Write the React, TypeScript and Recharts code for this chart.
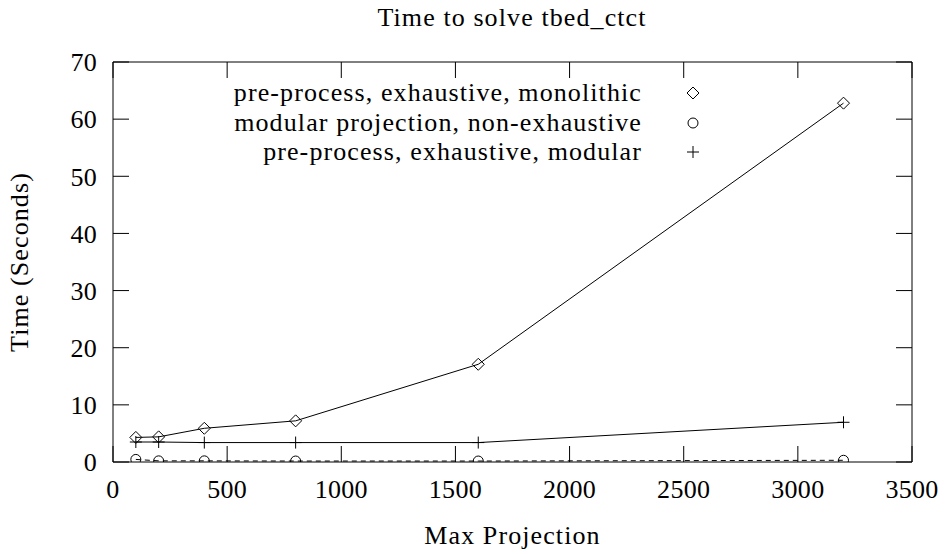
import { Line, LineChart, XAxis, YAxis, Label } from "recharts";

const maxProjection = [100, 200, 400, 800, 1600, 3200];
const monolithic = [4.3, 4.4, 5.9, 7.2, 17.1, 62.8];
const nonExhaustive = [0.45, 0.2, 0.2, 0.17, 0.17, 0.3];
const modular = [3.5, 3.5, 3.4, 3.4, 3.4, 6.95];

const xTicks = [0, 500, 1000, 1500, 2000, 2500, 3000, 3500];
const yTicks = [0, 10, 20, 30, 40, 50, 60, 70];

const FONT = "'Liberation Serif', 'Times New Roman', serif";
const SPACING = "1.1px";

const data = maxProjection.map((x, i) => ({
  x,
  monolithic: monolithic[i],
  nonExhaustive: nonExhaustive[i],
  modular: modular[i],
}));

type Kind = "diamond" | "circle" | "plus";

function Marker({ kind, cx, cy }: { kind: Kind; cx: number; cy: number }) {
  const common = { fill: "none", stroke: "#000", strokeWidth: 1, strokeDasharray: "none" };
  if (kind === "diamond") {
    const s = 6;
    return (
      <path
        d={`M${cx},${cy - s}L${cx + s},${cy}L${cx},${cy + s}L${cx - s},${cy}Z`}
        {...common}
      />
    );
  }
  if (kind === "circle") return <circle cx={cx} cy={cy} r={5} {...common} />;
  const s = 6;
  return <path d={`M${cx - s},${cy}H${cx + s}M${cx},${cy - s}V${cy + s}`} {...common} />;
}

const series: { key: string; name: string; kind: Kind; dash?: string }[] = [
  { key: "monolithic", name: "pre-process, exhaustive, monolithic", kind: "diamond" },
  { key: "nonExhaustive", name: "modular projection, non-exhaustive", kind: "circle", dash: "5 4" },
  { key: "modular", name: "pre-process, exhaustive, modular", kind: "plus" },
];

const emptyTick = () => <g />;
const tickStyle = { fill: "#000", fontSize: 26, fontFamily: FONT, letterSpacing: "0.3px" };

export default function App() {
  return (
    <div
      style={{
        position: "absolute",
        left: 0,
        top: 0,
        width: 948,
        height: 554,
        fontFamily: FONT,
        background: "#fff",
      }}
    >
      <div
        style={{
          position: "absolute",
          left: 262,
          width: 500,
          top: 3,
          textAlign: "center",
          fontSize: 26,
          lineHeight: "30px",
          fontFamily: FONT,
          letterSpacing: SPACING,
        }}
      >
        Time to solve tbed_ctct
      </div>
      <LineChart
        width={948}
        height={554}
        data={data}
        margin={{ top: 61, right: 35, bottom: 32, left: 53 }}
        style={{ fontFamily: FONT }}
      >
        <XAxis
          dataKey="x"
          type="number"
          domain={[0, 3500]}
          ticks={xTicks}
          height={60}
          tickSize={-16}
          tickMargin={34}
          axisLine={{ stroke: "#000" }}
          tickLine={{ stroke: "#000" }}
          tick={tickStyle}
          allowDataOverflow
        >
          <Label
            value="Max Projection"
            position="insideBottom"
            offset={-22}
            fill="#000"
            fontSize={26}
            fontFamily={FONT}
            style={{ letterSpacing: SPACING }}
          />
        </XAxis>
        <XAxis
          xAxisId="top"
          orientation="top"
          dataKey="x"
          type="number"
          domain={[0, 3500]}
          ticks={xTicks}
          height={1}
          tickSize={-16}
          axisLine={{ stroke: "#000" }}
          tickLine={{ stroke: "#000" }}
          tick={emptyTick}
          allowDataOverflow
        />
        <YAxis
          type="number"
          domain={[0, 70]}
          ticks={yTicks}
          width={60}
          tickSize={-16}
          tickMargin={32}
          axisLine={{ stroke: "#000" }}
          tickLine={{ stroke: "#000" }}
          tick={tickStyle}
          allowDataOverflow
        >
          <Label
            value="Time (Seconds)"
            angle={-90}
            position="insideLeft"
            offset={-34}
            fill="#000"
            fontSize={26}
            fontFamily={FONT}
            style={{ textAnchor: "middle", letterSpacing: SPACING }}
          />
        </YAxis>
        <YAxis
          yAxisId="right"
          orientation="right"
          type="number"
          domain={[0, 70]}
          ticks={yTicks}
          width={1}
          tickSize={-16}
          axisLine={{ stroke: "#000" }}
          tickLine={{ stroke: "#000" }}
          tick={emptyTick}
          allowDataOverflow
        />
        {series.map((s) => (
          <Line
            key={s.key}
            dataKey={s.key}
            name={s.name}
            type="linear"
            stroke="#000"
            strokeWidth={1}
            strokeDasharray={s.dash}
            isAnimationActive={false}
            activeDot={false}
            dot={(p: any) => (
              <Marker key={`${s.key}-${p.index}`} kind={s.kind} cx={p.cx} cy={p.cy} />
            )}
          />
        ))}
      </LineChart>
      <div
        style={{
          position: "absolute",
          left: 0,
          top: 78,
          width: 948,
          fontSize: 26,
          fontFamily: FONT,
          letterSpacing: SPACING,
        }}
      >
        {series.map((s) => (
          <div key={s.key} style={{ position: "relative", height: 29.5, lineHeight: "29.5px" }}>
            <div
              style={{
                position: "absolute",
                left: 0,
                width: 642,
                textAlign: "right",
                whiteSpace: "nowrap",
              }}
            >
              {s.name}
            </div>
            <svg width={16} height={16} style={{ position: "absolute", left: 685, top: 7 }}>
              <Marker kind={s.kind} cx={8} cy={8} />
            </svg>
          </div>
        ))}
      </div>
    </div>
  );
}
